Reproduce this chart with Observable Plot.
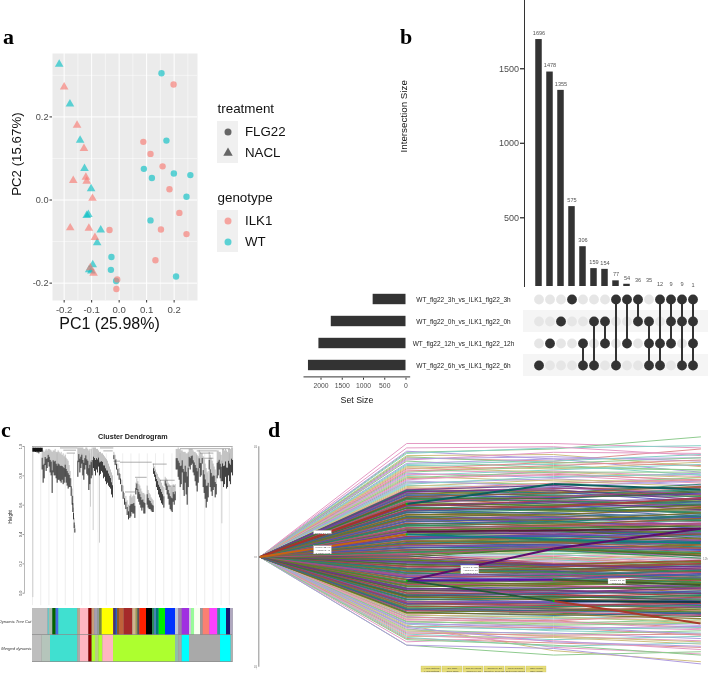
<!DOCTYPE html>
<html><head><meta charset="utf-8">
<style>html,body{margin:0;padding:0;background:#fff}#chart{position:relative;width:708px;height:673px;overflow:hidden;font-family:"Liberation Sans",sans-serif}
#chart svg{position:absolute;left:0;top:0;background:transparent;overflow:visible;font-family:"Liberation Sans",sans-serif;filter:blur(.3px)}
.letter{position:absolute;font:bold 22px "Liberation Serif",serif;line-height:0;color:#000}</style>
<script src="https://cdn.jsdelivr.net/npm/d3@7"></script>
<script src="https://cdn.jsdelivr.net/npm/@observablehq/plot@0.6"></script>
</head><body><div id="chart"></div>
<script>
// ---- panel a: PCA ----
const wtNacl=[[-0.218,0.327],[-0.179,0.231],[-0.142,0.144],[-0.126,0.076],[-0.102,0.027],[-0.112,-0.035],[-0.118,-0.037],[-0.067,-0.072],[-0.080,-0.103],[-0.096,-0.156],[-0.109,-0.168],[-0.101,-0.171]];
const ilkNacl=[[-0.200,0.272],[-0.153,0.180],[-0.128,0.124],[-0.121,0.055],[-0.118,0.045],[-0.167,0.047],[-0.097,0.004],[-0.178,-0.067],[-0.110,-0.068],[-0.088,-0.090],[-0.105,-0.163],[-0.093,-0.176]];
const wtFlg=[[0.154,0.305],[0.172,0.143],[0.090,0.075],[0.119,0.053],[0.199,0.064],[0.259,0.060],[0.245,0.008],[0.114,-0.049],[0.207,-0.184],[-0.028,-0.137],[-0.030,-0.168],[-0.011,-0.195]];
const ilkFlg=[[0.198,0.278],[0.088,0.140],[0.114,0.111],[0.158,0.081],[0.183,0.026],[0.219,-0.031],[0.152,-0.071],[0.245,-0.082],[0.132,-0.145],[-0.035,-0.072],[-0.007,-0.191],[-0.010,-0.214]];
const treatments=["FLG22","NACL"], genotypes=["ILK1","WT"];
const genotypeColors=["#F8766D","#00BFC4"];
const pcaXMajor=[-0.2,-0.1,0,0.1,0.2], pcaXMinor=[-0.15,-0.05,0.05,0.15,0.25];
const pcaYMajor=[-0.2,0,0.2], pcaYMinor=[-0.1,0.1,0.3];

// ---- panel b: UpSet ----
const setNames=["WT_flg22_3h_vs_ILK1_flg22_3h","WT_flg22_0h_vs_ILK1_flg22_0h","WT_flg22_12h_vs_ILK1_flg22_12h","WT_flg22_6h_vs_ILK1_flg22_6h"];
const setSizes=[773,1758,2049,2295];
const intersectionSizes=[1696,1478,1355,575,306,159,154,77,54,36,35,12,9,9,1];
const intersectionSets=[[3],[2],[1],[0],[2,3],[1,3],[1,2],[0,3],[0,2],[0,1],[1,2,3],[0,2,3],[0,1,2],[0,1,3],[0,1,2,3]];
const setTicks=[2000,1500,1000,500,0], intersectionTicks=[500,1000,1500];

// ---- panel c: dendrogram ----
const heightTicks=[0,0.2,0.4,0.6,0.8,1];
const dendroDark=[[100,.99,.97],[105,.99,.96],[110,.99,.955],[115,.99,.95],[120,.99,.96],[125,.985,.84],[128,.97,.75],[131,.96,.78],[134,.97,.87],[137,.98,.83],[140,.97,.85],[143,.98,.89],[146,.98,.86],[149,.975,.82],[152,.97,.8],[155,.96,.68],[158,.97,.82],[161,.97,.80],[164,.98,.8],[167,.96,.78],[170,.96,.75],[173,.97,.77],[176,.96,.77],[179,.95,.76],[182,.96,.75],[185,.94,.77],[188,.95,.74],[191,.93,.75],[194,.94,.79],[197,.92,.75],[200,.91,.73],[203,.9,.71],[206,.87,.72],[209,.83,.72],[212,.78,.66],[215,.71,.6],[217,.66,.55],[219,.58,.5],[221,.51,.44],[223,.46,.41],
[232,.99,.79],[235,.99,.89],[238,.99,.82],[241,.99,.85],[244,.99,.88],[247,.99,.8],[250,.98,.77],[253,.98,.84],[256,.99,.87],[259,.99,.81],[262,.98,.8],[265,.97,.7],[268,.98,.74],[272,.98,.78],[275,.99,.8],[279,.99,.85],[282,.99,.83],[285,.99,.8],[288,.98,.84],[291,.98,.82],[294,.97,.86],[297,.96,.8],[300,.96,.81],[303,.95,.83],[306,.95,.82],[309,.94,.78],[312,.93,.79],[315,.92,.76],[318,.91,.74],[321,.9,.75],[324,.88,.73],[327,.86,.72],[330,.84,.71],[333,.82,.67],[336,.8,.65],
[340,.96,.91],[344,.94,.87],[348,.91,.84],[352,.88,.80],[356,.85,.77],[360,.81,.74],[364,.77,.69],[368,.73,.64],[372,.68,.6],[376,.66,.57],[380,.63,.53],[384,.6,.5],
[388,.66,.51],[391,.67,.52],[394,.65,.55],[397,.66,.54],[400,.67,.54],[403,.66,.51],[406,.75,.67],[409,.78,.7],[412,.76,.64],[415,.74,.62],[418,.73,.6],[421,.71,.58],[424,.69,.56],[427,.68,.58],[430,.68,.54],[433,.67,.54],[440,.73,.6],[443,.7,.58],[446,.68,.57],[449,.67,.57],[452,.65,.56],[455,.64,.55],[458,.63,.55],
[459,.88,.81],[462,.86,.79],[465,.84,.76],[468,.82,.72],[471,.81,.7],[474,.79,.67],[477,.78,.65],[480,.77,.63],[483,.75,.61],[486,.73,.6],[490,.72,.58],[494,.79,.73],[497,.78,.7],[500,.77,.67],[503,.75,.64],[506,.74,.6],[509,.73,.57],[512,.72,.56],[515,.72,.55],[518,.74,.62],[521,.73,.6],[524,.74,.63],
[527,.98,.84],[530,.98,.84],[533,.99,.79],[536,.98,.77],[539,.98,.72],[542,.97,.74],[545,.97,.82],[548,.96,.7],[551,.96,.66],[554,.96,.75],[557,.95,.67],[560,.95,.6],[563,.96,.72],[566,.98,.86],[569,.98,.84],[572,.98,.87],[575,.98,.88],[578,.97,.82],[581,.96,.8],[584,.96,.76],[587,.95,.73],[590,.94,.69],[593,.93,.75],[596,.97,.85],[599,.96,.79],[602,.95,.8],[605,.95,.88],[608,.93,.72],[611,.91,.68],[614,.88,.64],[617,.85,.58],[620,.82,.62],[623,.83,.65],[626,.96,.84],[629,.94,.72],[632,.92,.69],[635,.9,.66],[638,.88,.7],[641,.86,.72],[644,.84,.65],[647,.8,.67],[650,.97,.78],[653,.97,.8],[656,.96,.84],[659,.96,.78],[662,.94,.76],[666,.98,.76],[669,.98,.72],[672,.97,.74],[675,.98,.79],[678,.97,.71],[681,.96,.72],[684,.98,.8],[687,.98,.76],[690,.98,.74],[693,.99,.82],[696,.99,.8]];
const dendroLight=[[97,1,-.03],[270,.9,.586],[278,.9,.427],[297,.9,.341],[664,.9,.473]];
const dendroJoins=[[1,96,698],[.893,360,455],[.9,340,360],[.69,375,405],[.79,405,440],[.77,480,524],[.73,495,525],[.88,458,500],[.99,180,232],[.975,190,228],[.955,200,225],[.99,300,340],[.97,310,338],[.985,540,690],[.97,590,650],[.955,600,640],[.92,610,640]];
const dendroBlob=[[.978,97,128]];
const treeEdges=[96,143,147,157,167,175,232,240,265,275,283,291,297,305,339,343,347,351,357,371,397,407,412,418,438,456,462,468,476,495,525,535,545,567,573,582,600,608,628,652,660,678,690,698];
const treeColors=["#bebebe","#66c8c8","#a8b8a8","#006400","#4169e1","#40e0d0","#b5a890","#ffb6c1","#8b0000","#c8a078","#a89fb0","#8f9a9a","#7a8a3a","#ffff00","#6a3a6a","#191970","#3060c0","#8b5a2b","#c0623a","#a52a2a","#d2b48c","#9a9a50","#555555","#ff2000","#000000","#2e8b57","#4682b4","#007a7a","#00ee00","#0033ff","#c0c8d8","#9a80a8","#a030e0","#d0c8e0","#98fb98","#f8fff0","#999999","#fa8072","#ff40ff","#2a9a9a","#00ffff","#191970","#b0a8c0"];
const mergedEdges=[96,125,150,232,240,265,275,285,295,307,339,525,535,545,567,660,692,698];
const mergedColors=["#bebebe","#b5c5bb","#40e0d0","#aaaaaa","#ffb6c1","#8b0000","#adff2f","#b8d080","#adff2f","#ffb6c1","#adff2f","#8fc0a8","#a8a8a8","#00ffff","#a9a9a9","#00ffff","#b0b0b0"];
const treeRows=["Dynamic Tree Cut","Merged dynamic"];

// ---- panel d: expression profiles [T1,T2,T3] ----
const paleProfiles=[[10.3,10.3,9.9],[9.5,9.8,10.9],[9.6,8.9,7.7],[9.4,9.9,10.1],[9.2,9.3,8.2],[9.0,8.7,9.8],[8.8,9.5,9.4],[8.7,8.1,7.9],[8.5,8.9,9.0],[8.3,8.4,7.4],[8.2,8.0,8.6],[8.0,8.6,8.3],[7.9,7.6,6.9],[7.7,8.2,7.9],[7.6,7.2,7.6],[7.4,7.9,8.4],[7.3,6.9,6.4],[7.1,7.5,7.0],[7.0,7.8,7.3],[6.8,6.6,7.2],[6.7,7.1,6.5],[6.5,6.3,5.9],[6.4,7.0,6.8],[6.2,5.8,6.2],
[9.9,10.0,9.2],[9.1,8.5,9.0],[8.9,9.1,8.7],[8.4,8.7,9.3],[8.1,7.7,7.2],[7.8,8.3,8.8],[7.5,7.4,6.7],[7.2,7.7,7.7],[6.9,6.4,6.9],[6.6,7.3,7.5],[6.3,6.0,5.7],[6.15,6.7,7.0],
[-5.2,-5.7,-5.4],[-5.3,-5.4,-6.0],[-5.4,-5.9,-6.2],[-5.5,-5.6,-5.3],[-5.6,-6.1,-5.9],[-5.7,-5.8,-6.4],[-5.8,-6.3,-6.6],[-5.9,-6.0,-5.7],[-6.0,-6.5,-6.3],[-6.1,-6.7,-6.9],[-6.2,-8.5,-9.5],[-6.3,-6.4,-7.1],[-6.5,-8.2,-8.8],[-6.6,-7.0,-6.7],[-6.8,-6.9,-7.4],[-7,-7.5,-7.2],[-7.2,-7.3,-7.9],[-7.4,-7.8,-8.2],[-7.7,-7.2,-7.6],[-8,-8.9,-8.6],[-8,-8.3,-9.7],[-7.3,-8.1,-7.8],
[-5.25,-5.5,-5.8],[-5.45,-5.8,-5.1],[-5.65,-5.9,-6.5],[-5.85,-6.2,-6.0],[-6.05,-6.3,-7.0],[-6.35,-6.6,-6.4],[-6.7,-7.2,-7.7],[-6.9,-7.1,-7.0],[-7.1,-7.6,-8.4],[-7.5,-8.0,-8.9],[-6.4,-7.7,-8.1],
[0.9,0.5,0.2],[0.7,0.3,0.5],[0.5,0.2,-0.2],[0.4,0.1,0.3],[0.3,0.35,0.1],[0.2,-0.1,-0.3],[0.1,0.25,-0.5],[0,-0.2,0.2],[-0.1,0.05,-0.6],[-0.2,-0.35,-0.1],[-0.3,-0.05,-0.8],[-0.4,-0.45,-0.5],[-0.5,-0.25,-0.9],[-0.6,-0.5,-1.2],[-0.8,-0.15,-0.7],[-1.0,-0.55,-1.0]];
const coreProfiles=[[6.1,6.5,5.4],[6.0,5.5,6.0],[5.9,6.2,6.3],[5.8,5.3,4.9],[5.7,6.0,5.6],[5.6,5.7,6.1],[5.5,5.0,5.3],[5.4,5.9,5.0],[5.3,4.8,4.5],[5.2,5.6,5.5],[5.1,5.2,4.7],[5.0,4.6,5.1],[4.9,5.4,5.7],[4.8,4.4,4.0],[4.7,5.1,4.6],[4.6,4.9,5.0],[4.5,4.2,4.4],[4.4,4.7,3.9],[4.3,3.9,4.2],[4.2,4.5,4.8],[4.1,3.7,3.5],[4.0,4.3,4.1],[3.9,3.6,3.2],[3.8,4.1,4.3],[3.7,3.4,3.7],[3.6,3.9,3.3],[3.5,3.1,3.0],[3.4,3.7,3.9],[3.3,3.0,2.7],[3.2,3.5,3.4],[3.1,2.8,3.1],[3.0,3.3,2.6],[2.9,2.6,2.9],[2.8,3.1,3.3],[2.7,2.4,2.2],[2.6,2.9,2.5],[2.5,2.3,2.0],[2.4,2.7,2.8],[2.3,2.0,2.4],[2.2,2.5,1.9],[2.1,1.9,1.6],[2.0,2.2,2.3],[1.9,1.7,1.3],[1.8,2.0,1.8],[1.7,1.5,1.1],[1.6,1.8,2.0],[1.5,1.3,1.5],[1.4,1.6,1.0],[1.3,1.1,0.7],[1.2,1.4,1.2],[1.1,0.9,0.5],[1.0,1.2,1.4],[0.9,0.8,0.3],[0.8,1.0,0.9],[0.7,0.6,0.1],[0.6,0.9,0.6],[0.5,0.7,0.2],[0.4,0.6,-0.1],[0.3,-0.6,-0.4],[0.2,0.7,0.3],[0.1,-0.7,-0.9],[0,0.8,0.1],[-0.1,-0.7,-0.3],
[-0.2,-0.8,-1.2],[-0.3,-0.7,-0.4],[-0.4,-0.9,-0.7],[-0.5,-1.0,-1.5],[-0.6,-0.8,-0.9],[-0.7,-1.2,-0.6],[-0.8,-1.1,-1.8],[-0.9,-1.3,-1.1],[-1,-1.5,-1.9],[-1.1,-1.2,-0.8],[-1.2,-1.6,-2.1],[-1.3,-1.4,-1.0],[-1.4,-1.8,-1.6],[-1.5,-1.3,-2.0],[-1.6,-1.9,-2.3],[-1.7,-1.6,-1.3],[-1.8,-2.2,-1.9],[-1.9,-1.7,-2.4],[-2,-2.3,-2.7],[-2.1,-2.0,-1.7],[-2.2,-2.5,-2.2],[-2.3,-2.1,-2.9],[-2.4,-2.7,-3.0],[-2.5,-2.4,-2.1],[-2.6,-2.9,-2.6],[-2.7,-2.6,-3.2],[-2.8,-3.1,-3.4],[-2.9,-2.8,-2.5],[-3,-3.3,-3.1],[-3.1,-3.0,-3.6],[-3.2,-3.5,-3.8],[-3.3,-3.2,-2.9],[-3.4,-3.7,-3.5],[-3.5,-3.4,-4.0],[-3.6,-3.9,-4.2],[-3.7,-3.6,-3.3],[-3.8,-4.1,-3.9],[-3.9,-3.8,-4.4],[-4,-4.3,-4.6],[-4.1,-4.0,-3.7],[-4.2,-4.5,-4.3],[-4.3,-4.2,-4.8],[-4.4,-4.7,-5.0],[-4.5,-4.4,-4.1],[-4.6,-4.9,-4.7],[-4.7,-4.7,-5.2],[-4.8,-5.1,-5.4],[-4.9,-4.9,-4.5],[-5,-5.3,-5.1],[-5.1,-5.2,-5.6],
[6.05,5.8,6.6],[5.85,6.3,5.7],[5.65,5.4,5.8],[5.45,5.8,6.4],[5.25,5.1,4.8],[5.05,5.5,5.9],[4.85,4.7,5.2],[4.65,5.0,4.3],[4.45,4.3,4.7],[4.25,4.6,5.3],[4.05,4.0,3.6],[3.85,3.8,4.5],[3.65,3.2,3.8],[3.45,3.6,2.9],[3.25,3.4,3.6],[3.05,2.9,3.5],[2.85,2.7,2.4],[2.65,2.8,3.0],[2.45,2.6,2.1],[2.25,2.1,2.6],[2.05,2.4,1.7],[1.85,1.6,2.1],[1.65,1.9,1.4],[1.45,1.4,1.7],[1.25,1.5,0.9],[1.05,1.0,1.3],[0.85,1.1,0.7],[0.65,0.7,1.1],[0.45,0.8,0.4],[0.25,0.9,0.8],
[-0.25,-0.9,-0.5],[-0.45,-0.7,-1.1],[-0.65,-1.0,-1.3],[-0.85,-0.9,-0.6],[-1.05,-1.3,-1.7],[-1.25,-1.1,-1.4],[-1.45,-1.7,-1.2],[-1.65,-1.5,-2.0],[-1.85,-2.0,-1.5],[-2.05,-2.2,-2.5],[-2.25,-2.0,-2.3],[-2.45,-2.6,-2.8],[-2.65,-2.5,-2.4],[-2.85,-3.0,-3.3],[-3.05,-2.9,-2.7],[-3.25,-3.4,-3.7],[-3.45,-3.3,-3.2],[-3.65,-3.8,-4.1],[-3.85,-3.7,-3.5],[-4.05,-4.2,-4.5],[-4.25,-4.1,-4.0],[-4.45,-4.6,-4.9],[-4.65,-4.5,-4.4],[-4.85,-5.0,-5.3],[-5.05,-4.8,-5.0],
[5.95,6.1,5.2],[5.35,5.3,5.9],[4.75,4.5,5.4],[4.15,4.4,3.7],[3.55,3.3,4.0],[2.95,3.2,3.7],[2.35,2.2,1.5],[1.75,1.9,2.2],[1.15,1.3,0.8],[-1.15,-1.4,-2.0],[-1.75,-1.8,-1.4],[-2.35,-2.4,-2.0],[-2.95,-3.2,-2.8],[-3.55,-3.6,-3.9],[-4.15,-4.4,-4.2],[-4.75,-4.9,-5.1]];
const palePalette=["#e49ac4","#8fcb8f","#b09ce0","#86d0c8","#cfbf80","#de9090"];
const corePalette=["#6f3485","#3f6f30","#a83e46","#346490","#7f6f20","#247f6f","#8f4fa6","#4f4fb6","#955f30","#2f8f5f","#b54f75","#5f7f20"];
const highlightSegments=[[0,0,1,4.8,"#a8322a",2],[0,0,1,2.05,"#c8640f",1.8],[1,2.3,2,2.42,"#5a1a3a",1.8],[2,2.42,3,2.57,"#5a1a3a",1.8],[1,4.8,2,6.62,"#0b5f5f",2],[2,6.62,3,6.13,"#0b5f5f",2],[1,2.05,2,1.6,"#0f7f7f",1.8],[2,1.6,3,1.27,"#0f7f7f",1.8],[1,-2.15,2,0.76,"#5c0f6e",2.1],[2,0.76,3,2.57,"#5c0f6e",2.1],[1,-2.15,2,-2.05,"#5e10a8",1.9],[2,-2.05,3,-2.54,"#3f5a2a",1.9],[1,-2.15,2,-3.99,"#1f5a3a",1.7],[2,-3.99,3,-4.08,"#0e3a4a",2],[2,-3.99,3,-6.04,"#a83a2a",1.9]];
const selectedNodes=[[1,4.8],[1,2.05],[1,-2.15],[2,-3.99],[2,-2.05]];
const infoBoxes=[[0.37,0.49,2.36,2.05,["Profile 34: 118"]],[0.37,0.49,0.97,0.24,["Profile 22: 96","Assigned: 41","p-value: 0.01"]],[1.372,1.494,-0.79,-1.57,["Profile 8: 152","Assigned: 60","p-value: 0.03"]],[2.374,2.494,-2.0,-2.48,["Profile 13: 87","Assigned: 29"]]];
const buttonRow1=["Y-axis Options","Sel Table","Gap T0 values","Cancel by SIt","Gene Number","Save Model"];
const buttonRow2=["X-axis Options","Gene Table","Cancel by TO","Select by Gene Set","Enter Time Series","Save Image"];
const panelLetters=[["a",3,44],["b",400,44],["c",1,437],["d",268,437]];

const chart=document.getElementById("chart");
const base={width:708,height:673,marginTop:0,marginRight:0,marginBottom:0,marginLeft:0};
const add=o=>chart.appendChild(Plot.plot({...base,...o,x:{axis:null,...o.x},y:{axis:null,...o.y}}));

// panel a
const pca=[[wtNacl,"WT","NACL"],[ilkNacl,"ILK1","NACL"],[wtFlg,"WT","FLG22"],[ilkFlg,"ILK1","FLG22"]]
  .flatMap(([rows,g,t])=>rows.map(([pc1,pc2])=>({pc1,pc2,genotype:g,treatment:t})));
const fmt1=d=>d.toFixed(1);
add({marginLeft:52,marginRight:511,marginTop:53,marginBottom:373,
  x:{domain:[-0.2424,0.285]},y:{domain:[-0.2418,0.3526]},
  color:{domain:genotypes,range:genotypeColors},symbol:{domain:treatments,range:["circle","triangle"]},
  marks:[
    Plot.frame({fill:"#ebebeb",stroke:null}),
    Plot.ruleX(pcaXMinor,{stroke:"#fff",strokeWidth:.5}),Plot.ruleY(pcaYMinor,{stroke:"#fff",strokeWidth:.5}),
    Plot.ruleX(pcaXMajor,{stroke:"#fff",strokeWidth:1}),Plot.ruleY(pcaYMajor,{stroke:"#fff",strokeWidth:1}),
    Plot.dot(pca,{x:"pc1",y:"pc2",fill:"genotype",symbol:"treatment",r:3.2,fillOpacity:.62,stroke:null}),
    Plot.axisX({ticks:pcaXMajor,tickFormat:fmt1,tickSize:2.5,tickPadding:3,fontSize:9.6,stroke:"#333",fill:"#4d4d4d",label:null}),
    Plot.axisY({ticks:pcaYMajor,tickFormat:fmt1,tickSize:2.5,tickPadding:1.5,fontSize:9.2,stroke:"#333",fill:"#4d4d4d",label:null}),
    Plot.text(["PC1 (25.98%)"],{x:-0.035,frameAnchor:"bottom",dy:23,lineAnchor:"middle",fontSize:16,fill:"#111"}),
    Plot.text(["PC2 (15.67%)"],{frameAnchor:"left",y:0.01,dx:-36,rotate:-90,fontSize:13.3,fill:"#111"})
  ]});
function legend(title,labels,top,bottom,fill,symbol,opacity){
  add({x:{type:"band",domain:["key"],range:[216.7,237.7],padding:0},y:{type:"band",domain:labels,range:[top,bottom],padding:0},
    marks:[
      Plot.cell(labels,{x:()=>"key",y:d=>d,fill:"#f0f0f0"}),
      Plot.dot(labels,{x:()=>"key",y:d=>d,r:3.5,stroke:null,fillOpacity:opacity,fill:d=>fill[labels.indexOf(d)],symbol:d=>symbol[labels.indexOf(d)]}),
      Plot.text(labels,{x:()=>"key",y:d=>d,dx:17,textAnchor:"start",fontSize:13.3,fill:"#111"}),
      Plot.text([title],{x:()=>"key",y:()=>labels[0],dx:-10.5,dy:-23.7,textAnchor:"start",fontSize:13.4,fill:"#111"})
    ]});
}
legend("treatment",treatments,121,163.3,["#666666","#666666"],["circle","triangle"],1);
legend("genotype",genotypes,210,252.3,genotypeColors,["circle","circle"],.62);

// panel b: intersection bars
const columns=intersectionSizes.map((size,i)=>({id:i,size,sets:intersectionSets[i]}));
const colIds=columns.map(d=>d.id);
add({marginLeft:524,marginBottom:387,
  x:{type:"band",domain:colIds,range:[529,701.8],padding:0},y:{domain:[39,1958]},
  marks:[
    Plot.barY(columns,{x:"id",y:"size",fill:"#333",insetLeft:2.25,insetRight:2.25,clip:true}),
    Plot.text(columns,{x:"id",y:"size",text:d=>String(d.size),dy:-6.5,fontSize:5.6,fill:"#555"}),
    Plot.frame({anchor:"left",stroke:"#333",strokeWidth:1}),
    Plot.axisY({ticks:intersectionTicks,tickFormat:d=>String(d),tickSize:4,tickPadding:1.5,fontSize:9,stroke:"#222",strokeWidth:1.2,fill:"#4d4d4d",label:null}),
    Plot.text(["Intersection Size"],{frameAnchor:"left",y:938,dx:-121,rotate:-90,fontSize:9.8,fill:"#111"})
  ]});
// panel b: row stripes and set names
const rowDomain=setNames, rowRange=[286.25,377.85];
add({x:{domain:[0,1],range:[523,708]},y:{type:"band",domain:rowDomain,range:rowRange,padding:0},
  marks:[
    Plot.barX([setNames[1],setNames[3]],{x1:()=>0,x2:()=>1,y:d=>d,fill:"#f5f5f5"}),
    Plot.text(setNames,{x:()=>0,y:d=>d,dx:-60,fontSize:6.5,fill:"#222"})
  ]});
// panel b: set sizes
const sets=setNames.map((name,i)=>({name,size:setSizes[i]}));
add({marginBottom:295.3,x:{domain:[0,2400],range:[405.5,303.5]},y:{type:"band",domain:rowDomain,range:rowRange,padding:0},
  marks:[
    Plot.barX(sets,{y:"name",x:"size",fill:"#333",insetTop:5.8,insetBottom:5.8}),
    Plot.ruleY(["axis"],{y:()=>setNames[3],x1:()=>2400,x2:()=>-110,stroke:"#333",strokeWidth:1,dy:11.4}),
    Plot.axisX({ticks:setTicks,tickFormat:d=>String(d),tickSize:2,tickPadding:3,fontSize:6.8,stroke:"#333",fill:"#4d4d4d",label:null}),
    Plot.text(["Set Size"],{x:()=>1155,y:()=>setNames[3],dy:34.3,fontSize:8.8,fill:"#111"})
  ]});
// panel b: membership matrix
const cells=columns.flatMap(c=>setNames.map((name,i)=>({id:c.id,name,on:c.sets.includes(i)})));
const members=columns.flatMap(c=>c.sets.map(i=>({id:c.id,name:setNames[i]})));
add({x:{type:"band",domain:colIds,range:[529,701.8],padding:0},y:{type:"band",domain:rowDomain,range:rowRange,padding:0},
  marks:[
    Plot.dot(cells.filter(d=>!d.on),{x:"id",y:"name",r:4.9,fill:"#e6e6e6",stroke:null}),
    Plot.dot(cells.filter(d=>d.on),{x:"id",y:"name",r:4.9,fill:"#333",stroke:null}),
    Plot.line(members,{x:"id",y:"name",z:"id",stroke:"#333",strokeWidth:2})
  ]});

// panel c: dendrogram
const guides=d3.range(96,698,24.6);
add({marginLeft:24,marginTop:446,marginBottom:80.3,x:{domain:[96,698],range:[32,232.7]},y:{domain:[0,1]},
  marks:[
    Plot.frame({anchor:"left",stroke:"#b8b8b8"}),
    Plot.ruleX(guides,{y1:()=>-0.085,y2:()=>0.95,stroke:"#e6e6e6",strokeWidth:.7}),
    Plot.ruleX(dendroLight,{x:"0",y1:"1",y2:"2",stroke:"#bbb",strokeWidth:.7}),
    Plot.ruleY(dendroJoins,{y:"0",x1:"1",x2:"2",stroke:"#777",strokeWidth:.6}),
    Plot.ruleX(dendroDark,{x:"0",y1:"1",y2:"2",stroke:"#333",strokeWidth:.5,strokeOpacity:.6}),
    Plot.ruleX(dendroDark,{x:"0",y1:d=>d[2]+(d[1]-d[2])*.55,y2:"2",stroke:"#000",strokeWidth:.75,strokeOpacity:.9}),
    Plot.ruleY(dendroBlob,{y:"0",x1:"1",x2:"2",stroke:"#111",strokeWidth:4}),
    Plot.axisY({ticks:heightTicks,tickFormat:fmt1,tickRotate:-90,tickSize:1.5,tickPadding:1,fontSize:3.8,stroke:"#999",fill:"#444",label:null}),
    Plot.text(["Height"],{frameAnchor:"left",y:.475,dx:-14,rotate:-90,fontSize:4.6,fill:"#222"}),
    Plot.text(["Cluster Dendrogram"],{x:397,y:1,dy:-10.3,fontSize:7.2,fontWeight:"bold",fill:"#222"})
  ]});
const toSegs=(edges,colors,row)=>colors.map((color,i)=>({row,x1:edges[i],x2:edges[i+1],color}));
const bands=[...toSegs(treeEdges,treeColors,treeRows[0]),...toSegs(mergedEdges,mergedColors,treeRows[1])];
add({x:{domain:[96,698],range:[32,232.7]},y:{type:"band",domain:treeRows,range:[607.7,662.7],padding:0},color:{type:"identity"},
  marks:[
    Plot.barX(treeRows,{x1:()=>96,x2:()=>698,y:d=>d,fill:"#8a8a8a"}),
    Plot.barX(bands,{x1:"x1",x2:"x2",y:"row",fill:"color",insetBottom:.7}),
    Plot.text(treeRows,{x:()=>96,y:d=>d,dx:-1,textAnchor:"end",fontSize:4.1,fontStyle:"italic",fill:"#333"})
  ]});

// panel d: profiles
const toLong=(rows,palette,prefix)=>rows.flatMap((r,i)=>[0,...r].map((v,t)=>({id:prefix+i,t,v,color:palette[i%palette.length]})));
const segs=highlightSegments.map(([t1,v1,t2,v2,color,w])=>({t1,v1,t2,v2,color,w}));
const boxes=infoBoxes.map(([t1,t2,v1,v2,lines])=>({t1,t2,v1,v2,lines}));
const boxLines=boxes.flatMap(b=>b.lines.map((text,i)=>({t:(b.t1+b.t2)/2,v:b.v1-(i+.5)*(b.v1-b.v2)/b.lines.length,text})));
add({x:{domain:[0,3],range:[259.3,700]},y:{domain:[-10,10],range:[666.7,446.3]},color:{type:"identity"},
  marks:[
    Plot.line(toLong(paleProfiles,palePalette,"p"),{x:"t",y:"v",z:"id",stroke:"color",strokeWidth:1}),
    Plot.line(toLong(coreProfiles,corePalette,"c"),{x:"t",y:"v",z:"id",stroke:"color",strokeWidth:1.2,strokeOpacity:.88}),
    Plot.link(segs,{x1:"t1",y1:"v1",x2:"t2",y2:"v2",stroke:"color",strokeWidth:"w"}),
    Plot.dot(selectedNodes,{x:"0",y:"1",r:1,fill:"#0c0",stroke:null}),
    Plot.ruleX([0],{y1:()=>-10,y2:()=>10,stroke:"#999",strokeWidth:1.1,dx:-1}),
    Plot.text([10,0,-10],{x:()=>0,y:d=>d,dx:-4,text:d=>String(d),rotate:-90,fontSize:2.8,fill:"#777"}),
    Plot.text(["12h"],{x:()=>3,y:()=>-0.2,dx:5,fontSize:3,fill:"#888"}),
    Plot.rect(boxes,{x1:"t1",x2:"t2",y1:"v1",y2:"v2",fill:"#fff",stroke:"#ccc",strokeWidth:.3}),
    Plot.text(boxLines,{x:"t",y:"v",text:"text",fontSize:2.5,fill:"#555"})
  ]});
const buttons=[...buttonRow1.map((label,col)=>({label,col,row:0})),...buttonRow2.map((label,col)=>({label,col,row:1}))];
add({x:{type:"band",domain:d3.range(6),range:[419.3,547],padding:.07},y:{type:"band",domain:[0,1],range:[665.6,673],padding:.04},
  marks:[
    Plot.cell(buttons,{x:"col",y:"row",fill:"#e8df7a",stroke:"#b8b050",strokeWidth:.25}),
    Plot.text(buttons,{x:"col",y:"row",text:"label",fontSize:2.4,fill:"#554"})
  ]});
panelLetters.forEach(([t,l,b])=>{const e=document.createElement("div");e.className="letter";e.textContent=t;e.style.left=l+"px";e.style.top=(b-7.4)+"px";chart.appendChild(e);});
</script></body></html>
